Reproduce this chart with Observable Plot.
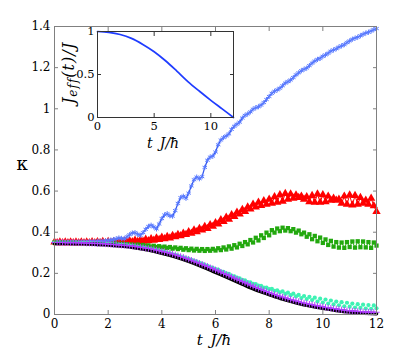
<!DOCTYPE html>
<html><head><meta charset="utf-8">
<script src="https://cdn.jsdelivr.net/npm/d3@7"></script>
<script src="https://cdn.jsdelivr.net/npm/@observablehq/plot@0.6"></script>
<style>
body{margin:0;background:#fff;}
#wrap{position:relative;width:415px;height:354px;}
#insetBox{position:absolute;left:57px;top:21px;}
</style></head><body><div id="wrap"><div id="mainBox"></div><div id="insetBox"></div></div>
<script>
// ---- data ----
const T_STEP = 0.1; // sampling step in t J/hbar
const xTicks = [0, 2, 4, 6, 8, 10, 12];
const yTicks = [0, 0.2, 0.4, 0.6, 0.8, 1, 1.2, 1.4];
const insetXTicks = [0, 5, 10];
const insetYTicks = [0, 0.5, 1];

const blueK = [
0.350,0.350,0.350,0.351,0.350,0.351,0.351,0.352,0.351,0.352,0.352,
0.353,0.352,0.354,0.355,0.354,0.356,0.357,0.356,0.358,0.360,
0.362,0.364,0.368,0.372,0.370,0.368,0.378,0.388,0.396,0.398,
0.390,0.385,0.398,0.414,0.428,0.434,0.426,0.416,0.440,0.466,
0.484,0.490,0.480,0.478,0.505,0.540,0.568,0.575,0.565,0.590,
0.625,0.655,0.668,0.660,0.670,0.715,0.750,0.765,0.770,0.790,
0.825,0.848,0.860,0.868,0.878,0.900,0.915,0.925,0.935,0.955,
0.968,0.975,0.985,0.998,1.005,1.010,1.018,1.030,1.045,1.060,
1.075,1.085,1.092,1.100,1.112,1.125,1.132,1.140,1.152,1.165,
1.175,1.185,1.192,1.198,1.210,1.222,1.232,1.240,1.245,1.255,
1.262,1.270,1.280,1.286,1.292,1.300,1.306,1.312,1.322,1.330,
1.338,1.343,1.348,1.355,1.362,1.368,1.372,1.378,1.385,1.390];

const redK = [
0.352,0.348,0.352,0.348,0.352,0.348,0.352,0.348,0.352,0.348,0.352,
0.348,0.352,0.348,0.353,0.348,0.353,0.349,0.354,0.349,0.354,
0.350,0.355,0.350,0.356,0.351,0.357,0.352,0.358,0.353,0.360,
0.354,0.362,0.356,0.365,0.358,0.368,0.361,0.371,0.364,0.375,
0.368,0.379,0.372,0.384,0.377,0.389,0.382,0.395,0.388,0.402,
0.395,0.410,0.402,0.418,0.410,0.427,0.418,0.436,0.428,0.446,
0.440,0.460,0.452,0.472,0.463,0.484,0.476,0.497,0.488,0.510,
0.500,0.522,0.512,0.535,0.522,0.545,0.530,0.553,0.535,0.560,
0.540,0.572,0.545,0.582,0.550,0.588,0.560,0.585,0.565,0.580,
0.568,0.575,0.560,0.572,0.548,0.578,0.545,0.585,0.545,0.582,
0.548,0.575,0.555,0.565,0.555,0.560,0.540,0.575,0.535,0.580,
0.532,0.578,0.535,0.568,0.540,0.555,0.535,0.565,0.528,0.500];

const greenK = [
0.350,0.349,0.350,0.349,0.350,0.349,0.350,0.349,0.350,0.349,0.349,
0.349,0.348,0.349,0.348,0.348,0.347,0.348,0.346,0.347,0.345,
0.346,0.344,0.345,0.342,0.344,0.340,0.342,0.338,0.340,0.336,
0.340,0.335,0.338,0.333,0.336,0.330,0.334,0.328,0.332,0.326,
0.330,0.323,0.328,0.320,0.326,0.318,0.324,0.315,0.322,0.313,
0.320,0.311,0.319,0.310,0.318,0.309,0.318,0.310,0.319,0.311,
0.322,0.313,0.326,0.316,0.331,0.320,0.337,0.326,0.344,0.333,
0.352,0.341,0.362,0.350,0.373,0.360,0.385,0.372,0.398,0.385,
0.410,0.398,0.418,0.405,0.422,0.408,0.420,0.405,0.415,0.398,
0.408,0.390,0.398,0.378,0.390,0.366,0.382,0.356,0.374,0.348,
0.365,0.338,0.358,0.330,0.352,0.325,0.350,0.324,0.352,0.328,
0.355,0.325,0.356,0.327,0.355,0.326,0.352,0.324,0.350,0.335];

const cyanK = [
0.350,0.350,0.350,0.350,0.349,0.349,0.349,0.349,0.349,0.348,0.348,
0.349,0.348,0.348,0.347,0.347,0.346,0.346,0.345,0.344,0.343,
0.342,0.341,0.340,0.339,0.338,0.337,0.336,0.335,0.333,0.331,
0.329,0.327,0.325,0.323,0.320,0.318,0.316,0.313,0.310,0.307,
0.304,0.300,0.297,0.293,0.290,0.286,0.282,0.278,0.274,0.270,
0.266,0.261,0.257,0.251,0.247,0.241,0.237,0.231,0.227,0.221,
0.218,0.210,0.207,0.200,0.197,0.189,0.186,0.179,0.176,0.168,
0.166,0.158,0.156,0.149,0.148,0.140,0.139,0.131,0.131,0.123,
0.125,0.115,0.118,0.108,0.112,0.100,0.106,0.094,0.101,0.088,
0.095,0.080,0.090,0.075,0.086,0.070,0.082,0.063,0.077,0.058,
0.073,0.053,0.068,0.049,0.063,0.045,0.060,0.040,0.057,0.038,
0.053,0.034,0.050,0.032,0.048,0.029,0.046,0.028,0.044,0.030];

const purpleK = [
0.350,0.350,0.350,0.350,0.349,0.349,0.349,0.349,0.349,0.348,0.348,
0.348,0.347,0.347,0.346,0.346,0.345,0.345,0.344,0.343,0.342,
0.341,0.340,0.339,0.338,0.337,0.336,0.335,0.334,0.333,0.331,
0.329,0.327,0.325,0.323,0.321,0.319,0.316,0.313,0.310,0.307,
0.304,0.301,0.298,0.294,0.290,0.286,0.282,0.278,0.273,0.269,
0.264,0.259,0.254,0.249,0.244,0.239,0.234,0.228,0.223,0.217,
0.212,0.206,0.200,0.195,0.189,0.183,0.177,0.172,0.166,0.160,
0.154,0.149,0.143,0.138,0.132,0.127,0.122,0.117,0.112,0.107,
0.102,0.098,0.093,0.089,0.085,0.081,0.077,0.073,0.070,0.066,
0.063,0.059,0.056,0.053,0.050,0.048,0.045,0.042,0.040,0.038,
0.035,0.033,0.031,0.029,0.027,0.025,0.023,0.021,0.019,0.018,
0.017,0.016,0.015,0.014,0.013,0.012,0.012,0.011,0.011,0.011];

const blackT = [0,0.5,1,1.5,2,2.5,3,3.5,4,4.5,5,5.5,6,6.5,7,7.5,8,8.5,9,9.5,10,10.5,11,11.5,12];
const blackK = [0.345,0.345,0.344,0.342,0.338,0.333,0.325,0.313,0.298,0.280,0.258,0.233,0.205,0.177,0.148,0.120,0.097,0.075,0.057,0.042,0.030,0.020,0.012,0.007,0.004];

const insetT = [0,1,2,3,4,5,6,7,8,9,10,11,12];
const insetJ = [1.0,0.99,0.965,0.92,0.85,0.765,0.66,0.54,0.415,0.305,0.20,0.10,0.0];

// ---- build tables ----
const rows = arr => arr.map((v, i) => ({t: Math.round(i * 1000 * T_STEP) / 1000, k: v}));
const blue = rows(blueK), red = rows(redK), green = rows(greenK), cyan = rows(cyanK), purple = rows(purpleK);
const black = blackT.map((t, i) => ({t, k: blackK[i]}));
const inset = insetT.map((t, i) => ({t, j: insetJ[i]}));

const serif = "'DejaVu Serif', serif";
const gray = "#808080";

const main = Plot.plot({
  width: 415, height: 354,
  marginLeft: 54, marginRight: 39, marginTop: 26, marginBottom: 40,
  style: {fontFamily: serif, fontSize: "12px", background: "white", overflow: "visible"},
  x: {domain: [0, 12]},
  y: {domain: [0, 1.4]},
  marks: [
    Plot.line(red, {x: "t", y: "k", stroke: "#ff0000", strokeWidth: 1}),
    Plot.dot(red, {x: "t", y: "k", symbol: "triangle", r: 3.1, fill: "#ff0000", stroke: "none"}),
    Plot.line(green, {x: "t", y: "k", stroke: "#22a80e", strokeWidth: 1}),
    Plot.dot(green, {x: "t", y: "k", symbol: "square", r: 2.4, fill: "#22a80e", stroke: "none"}),
    Plot.line(blue, {x: "t", y: "k", stroke: "#3358f0", strokeWidth: 1.3}),
    Plot.dot(blue, {x: "t", y: "k", symbol: "asterisk", r: 2.4, stroke: "#5a7bff", strokeWidth: 1}),
    Plot.dot(cyan, {x: "t", y: "k", symbol: "circle", r: 2.1, fill: "#3ef2b4", stroke: "none"}),
    Plot.line(black, {x: "t", y: "k", stroke: "black", strokeWidth: 3.6, curve: "catmull-rom"}),
    Plot.line(purple, {x: "t", y: "k", stroke: "#a020f0", strokeWidth: 1.2}),
    Plot.dot(purple, {x: "t", y: "k", symbol: "plus", r: 2.2, stroke: "#b040ff", strokeWidth: 1}),
    Plot.frame({stroke: gray}),
    Plot.axisX(xTicks, {anchor: "bottom", tickSize: -4, tickPadding: 9, stroke: gray, fill: "black", label: null}),
    Plot.axisX(xTicks, {anchor: "top", tickSize: -4, tickFormat: () => "", stroke: gray, label: null}),
    Plot.axisY(yTicks, {anchor: "left", tickSize: -4, tickPadding: 8, stroke: gray, fill: "black", label: null, tickFormat: d => String(d)}),
    Plot.axisY(yTicks, {anchor: "right", tickSize: -4, tickFormat: () => "", stroke: gray, label: null})
  ]
});
document.getElementById("mainBox").appendChild(main);

const insetPlot = Plot.plot({
  width: 182, height: 132,
  marginLeft: 40, marginRight: 6, marginTop: 10, marginBottom: 36,
  style: {fontFamily: serif, fontSize: "11.5px", background: "transparent", overflow: "visible"},
  x: {domain: [0, 12]},
  y: {domain: [0, 1]},
  marks: [
    Plot.frame({fill: "white", stroke: "none"}),
    Plot.line(inset, {x: "t", y: "j", stroke: "#1f3cff", strokeWidth: 1.7, curve: "catmull-rom"}),
    Plot.frame({stroke: "#333"}),
    Plot.axisX(insetXTicks, {anchor: "bottom", tickSize: -4, tickPadding: 8, stroke: "#333", fill: "black", label: null}),
    Plot.axisX(insetXTicks, {anchor: "top", tickSize: -4, tickFormat: () => "", stroke: "#333", label: null}),
    Plot.axisY(insetYTicks, {anchor: "left", tickSize: -4, tickPadding: 7, stroke: "#333", fill: "black", label: null, tickFormat: d => String(d)}),
    Plot.axisY(insetYTicks, {anchor: "right", tickSize: -4, tickFormat: () => "", stroke: "#333", label: null})
  ]
});
document.getElementById("insetBox").appendChild(insetPlot);

// ---- axis titles ----
const ms = d3.select(main);
ms.append("text").attr("x", 214).attr("y", 345).attr("text-anchor", "middle")
  .attr("font-family", serif).attr("font-size", 15).attr("font-style", "italic")
  .text("t\u2009 J/\u0127");
ms.append("text").attr("x", 22).attr("y", 170).attr("text-anchor", "middle")
  .attr("font-family", serif).attr("font-size", 18)
  .text("\u03ba");

const is = d3.select(insetPlot);
is.append("text").attr("x", 106).attr("y", 127).attr("text-anchor", "middle")
  .attr("font-family", serif).attr("font-size", 14).attr("font-style", "italic")
  .text("t\u2009 J/\u0127");
const yl = is.append("text").attr("transform", "translate(17,52) rotate(-90)")
  .attr("text-anchor", "middle").attr("font-family", serif).attr("font-size", 16).attr("font-style", "italic")
  .attr("letter-spacing", 1);
yl.append("tspan").text("J");
yl.append("tspan").attr("dy", 3).attr("font-size", 12).text("eff");
yl.append("tspan").attr("dy", -3).text("(t)/J");
</script>
</body></html>
